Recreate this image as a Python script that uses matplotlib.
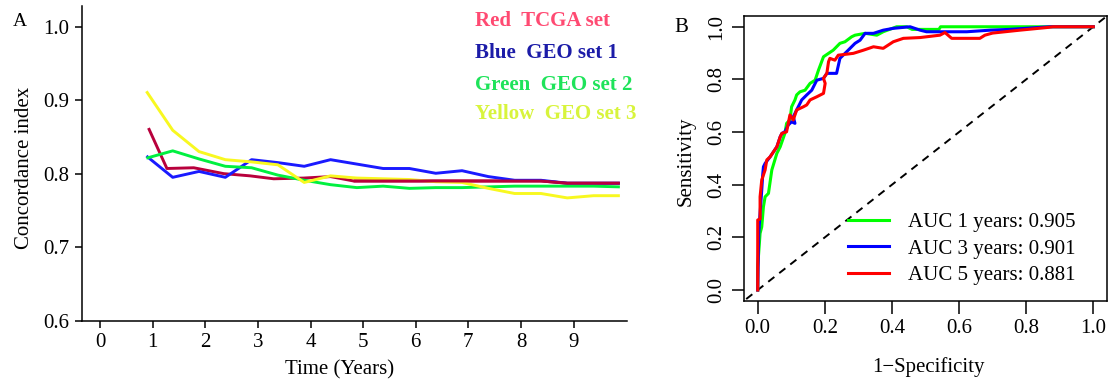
import matplotlib
matplotlib.use("Agg")
import matplotlib.pyplot as plt

plt.rcParams['font.family'] = ['Liberation Serif', 'DejaVu Serif']

# ---------------- Panel A data ----------------
years = [0.88, 1.38, 1.88, 2.38, 2.88, 3.38, 3.88, 4.38, 4.88, 5.38,
         5.88, 6.38, 6.88, 7.38, 7.88, 8.38, 8.88, 9.38, 9.88]
years_red = [0.92, 1.27, 1.78, 2.35, 2.85, 3.30, 3.87, 4.38, 4.82, 5.38,
             5.88, 6.38, 6.88, 7.38, 7.88, 8.38, 8.88, 9.38, 9.88]
cindex_red = [0.862, 0.807, 0.808, 0.800, 0.797, 0.793, 0.794, 0.796, 0.790, 0.790,
              0.790, 0.790, 0.790, 0.790, 0.790, 0.790, 0.787, 0.787, 0.787]
cindex_blue = [0.824, 0.795, 0.803, 0.795, 0.819, 0.815, 0.810, 0.819, 0.813, 0.807,
               0.807, 0.8005, 0.804, 0.796, 0.791, 0.791, 0.787, 0.787, 0.787]
cindex_green = [0.821, 0.831, 0.820, 0.810, 0.808, 0.798, 0.791, 0.785, 0.781, 0.783,
                0.780, 0.781, 0.781, 0.782, 0.783, 0.783, 0.783, 0.783, 0.782]
cindex_yellow = [0.912, 0.859, 0.830, 0.819, 0.816, 0.812, 0.788, 0.797, 0.794, 0.793,
                 0.792, 0.789, 0.788, 0.780, 0.773, 0.773, 0.767, 0.770, 0.770]
a_xticks = [0, 1, 2, 3, 4, 5, 6, 7, 8, 9]
a_yticks = [0.6, 0.7, 0.8, 0.9, 1.0]
a_legend = ["Red  TCGA set", "Blue  GEO set 1", "Green  GEO set 2", "Yellow  GEO set 3"]

# ---------------- Panel B data ----------------
fpr_1y = [0.0, 0.0, 0.007, 0.012, 0.017, 0.022, 0.032, 0.042, 0.057, 0.067, 0.081, 0.086,
          0.096, 0.101, 0.111, 0.116, 0.126, 0.141, 0.156, 0.171, 0.181, 0.196, 0.211,
          0.225, 0.245, 0.260, 0.280, 0.290, 0.320, 0.355, 0.374, 0.414, 0.444, 0.46,
          0.54, 0.545, 1.0]
tpr_1y = [0.0, 0.089, 0.215, 0.24, 0.316, 0.354, 0.367, 0.456, 0.519, 0.544, 0.595, 0.633,
          0.646, 0.696, 0.722, 0.741, 0.753, 0.759, 0.785, 0.797, 0.835, 0.886, 0.899,
          0.911, 0.937, 0.943, 0.962, 0.968, 0.975, 0.968, 0.981, 1.0, 1.0, 0.99,
          0.99, 1.0, 1.0]
fpr_3y = [0.0, 0.003, 0.007, 0.012, 0.015, 0.017, 0.022, 0.037, 0.047, 0.057, 0.067, 0.072,
          0.081, 0.091, 0.101, 0.111, 0.106, 0.116, 0.126, 0.131, 0.146, 0.161, 0.176,
          0.196, 0.206, 0.235, 0.245, 0.265, 0.290, 0.305, 0.320, 0.345, 0.374, 0.404,
          0.454, 0.484, 0.503, 0.623, 0.692, 0.75, 0.87, 1.0]
tpr_3y = [0.0, 0.215, 0.291, 0.38, 0.44, 0.468, 0.481, 0.506, 0.525, 0.544, 0.582, 0.595,
          0.601, 0.627, 0.639, 0.633, 0.658, 0.684, 0.709, 0.722, 0.741, 0.759, 0.797,
          0.804, 0.823, 0.823, 0.880, 0.905, 0.937, 0.949, 0.975, 0.975, 0.987, 0.994,
          1.0, 0.987, 0.981, 0.981, 0.987, 0.99, 1.0, 1.0]
fpr_5y = [0.0, 0.0, 0.007, 0.007, 0.012, 0.022, 0.027, 0.037, 0.057, 0.067, 0.072, 0.086,
          0.096, 0.106, 0.116, 0.136, 0.146, 0.156, 0.176, 0.196, 0.201, 0.196, 0.206,
          0.211, 0.215, 0.230, 0.240, 0.285, 0.315, 0.345, 0.374, 0.404, 0.434, 0.484,
          0.543, 0.558, 0.578, 0.662, 0.677, 0.70, 0.781, 0.861, 0.88, 1.0]
tpr_5y = [0.0, 0.266, 0.27, 0.354, 0.418, 0.456, 0.494, 0.506, 0.544, 0.582, 0.595, 0.601,
          0.665, 0.646, 0.684, 0.696, 0.703, 0.722, 0.734, 0.747, 0.785, 0.804, 0.823,
          0.867, 0.880, 0.873, 0.892, 0.899, 0.911, 0.924, 0.918, 0.943, 0.956, 0.959,
          0.968, 0.978, 0.956, 0.956, 0.968, 0.976, 0.987, 0.997, 1.0, 1.0]
auc_labels = ["AUC 1 years: 0.905", "AUC 3 years: 0.901", "AUC 5 years: 0.881"]
b_ticks = [0.0, 0.2, 0.4, 0.6, 0.8, 1.0]

W, H = 1113, 391
fig = plt.figure(figsize=(W / 100, H / 100), dpi=100)

def fx(px):
    return px / W

def fy(py):
    return 1 - py / H

FS = 15

# ---------------- Panel A ----------------
axA = fig.add_axes([fx(81.7), fy(320.7), fx(626.7) - fx(81.7), fy(6) - fy(320.7)])
axA.plot(years_red, cindex_red, color='#b8003c', lw=2.1, solid_capstyle='butt')
axA.plot(years, cindex_blue, color='#1a1aff', lw=2.1, solid_capstyle='butt')
axA.plot(years, cindex_green, color='#00f040', lw=2.1, solid_capstyle='butt')
axA.plot(years, cindex_yellow, color='#f8f820', lw=2.1, solid_capstyle='butt')
# redraw red on top where overlapping
axA.plot(years_red[8:], cindex_red[8:], color='#b8003c', lw=2.1, solid_capstyle='butt')
axA.set_xlim(-0.35, 10.01)
axA.set_ylim(0.6, 1.028)
axA.set_xticks(a_xticks)
axA.set_xticklabels([str(v) for v in a_xticks])
axA.set_yticks(a_yticks)
axA.set_yticklabels(["%.1f" % v for v in a_yticks])
for s in ['top', 'right']:
    axA.spines[s].set_visible(False)
for s in ['left', 'bottom']:
    axA.spines[s].set_linewidth(1.1)
axA.tick_params(direction='out', length=5, width=1.1, labelsize=FS, pad=4)

a_text_colors = ['#ff4a72', '#1c1ca8', '#1ee35a', '#d8f43c']
a_text_y = [20.7, 53.3, 85, 114]
for lab, col, yy in zip(a_legend, a_text_colors, a_text_y):
    fig.text(fx(475), fy(yy), lab, color=col, fontsize=FS, fontweight='bold',
             ha='left', va='center')

fig.text(fx(25), fy(168), "Concordance index", rotation=90, fontsize=FS,
         ha='center', va='center')
fig.text(fx(340), fy(370), "Time (Years)", fontsize=FS, ha='center', va='center')
fig.text(fx(20), fy(21), "A", fontsize=14, ha='center', va='center')

# ---------------- Panel B ----------------
axB = fig.add_axes([fx(744.3), fy(300.7), fx(1106.7) - fx(744.3), fy(15.7) - fy(300.7)])
axB.plot([-0.1, 1.1], [-0.1, 1.1], color='black', lw=1.4, ls=(0, (4, 3.2)))
l1, = axB.plot(fpr_1y, tpr_1y, color='#00ff00', lw=2.2, label=auc_labels[0])
l2, = axB.plot(fpr_3y, tpr_3y, color='#0000ff', lw=2.2, label=auc_labels[1])
l3, = axB.plot(fpr_5y, tpr_5y, color='#ff0000', lw=2.2, label=auc_labels[2])
axB.set_xlim(-0.04, 1.04)
axB.set_ylim(-0.0406, 1.042)
axB.set_xticks(b_ticks)
axB.set_xticklabels(["%.1f" % v for v in b_ticks])
axB.set_yticks(b_ticks)
axB.set_yticklabels(["%.1f" % v for v in b_ticks], rotation=90, va='center')
for s in axB.spines.values():
    s.set_linewidth(1.1)
axB.tick_params(direction='out', length=9, width=1.1, labelsize=FS, pad=4)
leg = axB.legend(handles=[l1, l2, l3], loc='lower left',
                 bbox_to_anchor=(0.286, 0.055), frameon=False, fontsize=FS,
                 handlelength=1.97, handletextpad=0.9, labelspacing=0.33,
                 borderpad=0, borderaxespad=0)

fig.text(fx(686), fy(161), "Sensitivity", rotation=90, fontsize=FS,
         ha='center', va='center')
fig.text(fx(928), fy(367), "1\u2212Specificity", fontsize=FS, ha='center', va='center')
fig.text(fx(681), fy(28), "B", fontsize=FS, ha='center', va='center')

fig.savefig("out.png", dpi=100)
